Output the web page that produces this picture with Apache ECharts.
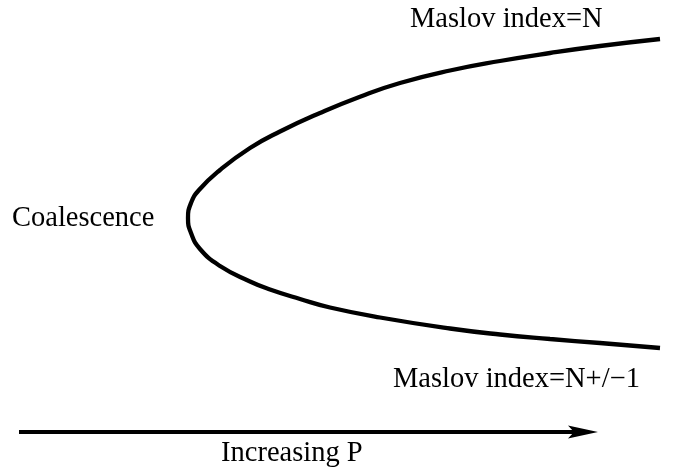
<!DOCTYPE html>
<html>
<head>
<meta charset="utf-8">
<script src="https://cdn.jsdelivr.net/npm/echarts@6/dist/echarts.min.js"></script>
<style>
  html, body { margin: 0; padding: 0; background: #fff; }
  #chart { width: 675px; height: 470px; }
</style>
</head>
<body>
<div id="chart"></div>
<script>
// curve (page units, y goes down)
const curveX = [660, 600, 550, 500, 450, 400, 360, 320, 280, 250, 220, 199, 191, 188,
                191, 200, 220, 250, 270, 300, 330, 380, 450, 500, 550, 600, 660];
const curveY = [39, 46, 53, 61, 70.5, 83, 96.7, 113, 131.5, 148, 170, 190, 203, 218,
                233, 249, 266, 281.5, 289.5, 299, 307.5, 317.5, 328.5, 334.5, 339, 343, 348];

// arrow at the bottom
const arrowX = [19, 575];
const arrowY = 432;
const arrowTip = 598;

const curveData = curveX.map((x, i) => [x, curveY[i]]);

const myChart = echarts.init(document.getElementById('chart'));
const font = '"Liberation Serif", "Times New Roman", serif';

myChart.setOption({
  animation: false,
  grid: { left: 0, right: 0, top: 0, bottom: 0 },
  xAxis: { type: 'value', min: 0, max: 675, show: false },
  yAxis: { type: 'value', min: 0, max: 470, inverse: true, show: false },
  series: [
    {
      type: 'line',
      data: curveData,
      smooth: true,
      showSymbol: false,
      lineStyle: { color: '#000', width: 4.3 }
    },
    {
      type: 'line',
      data: arrowX.map(x => [x, arrowY]),
      showSymbol: false,
      lineStyle: { color: '#000', width: 4 }
    },
    {
      // arrow head, pointing right
      type: 'scatter',
      data: [[arrowTip - 15, arrowY]],
      symbol: 'path://M0,0 L30,6.5 L0,13 L6,6.5 Z',
      symbolSize: [30, 13],
      itemStyle: { color: '#000', opacity: 1 }
    }
  ],
  graphic: [
    { type: 'text', left: 410, top: 5, style: { text: 'Maslov index=N', font: '28.5px ' + font, fill: '#000' } },
    { type: 'text', left: 12, top: 204, style: { text: 'Coalescence', font: '28.5px ' + font, fill: '#000' } },
    { type: 'text', left: 393, top: 365, style: { text: 'Maslov index=N+/\u22121', font: '28.5px ' + font, fill: '#000' } },
    { type: 'text', left: 221, top: 439, style: { text: 'Increasing P', font: '28.5px ' + font, fill: '#000' } }
  ]
});
</script>
</body>
</html>
